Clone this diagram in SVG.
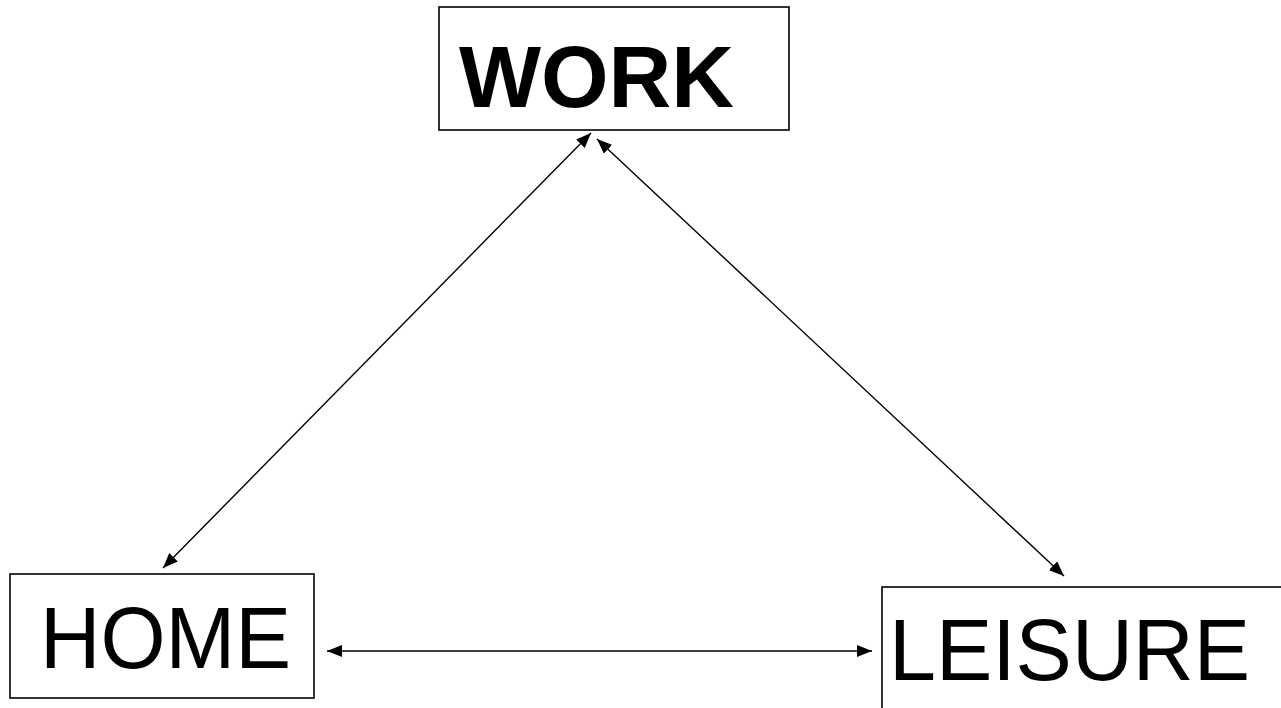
<svg xmlns="http://www.w3.org/2000/svg" width="1281" height="708" viewBox="0 0 1281 708">
  <style>
    .box { fill: #fff; stroke: #000; stroke-width: 1.6; }
    .lbl { font-family: "Liberation Sans", Arial, sans-serif; font-size: 88px; fill: #000; }
    .bold { font-weight: bold; }
    .link { stroke: #000; stroke-width: 1.4; fill: none; marker-start: url(#head); marker-end: url(#head); }
  </style>
  <defs>
    <!-- filled triangular head, used on both ends of every link -->
    <marker id="head" viewBox="0 0 15 12" refX="15" refY="6" markerWidth="15" markerHeight="12" markerUnits="userSpaceOnUse" orient="auto-start-reverse">
      <path d="M0,0 L15,6 L0,12 Z" fill="#000"/>
    </marker>
  </defs>
  <rect width="1281" height="708" fill="#fff"/>
  <g id="work">
    <rect class="box" x="439" y="7" width="350" height="123"/>
    <text class="lbl bold" x="459" y="107" textLength="275" lengthAdjust="spacingAndGlyphs">WORK</text>
  </g>
  <g id="home">
    <rect class="box" x="10" y="574" width="304" height="124"/>
    <text class="lbl" x="40" y="668" textLength="251" lengthAdjust="spacingAndGlyphs">HOME</text>
  </g>
  <g id="leisure">
    <rect class="box" x="882" y="587" width="410" height="140"/>
    <text class="lbl" x="889" y="680" textLength="361" lengthAdjust="spacingAndGlyphs">LEISURE</text>
  </g>
  <g id="connectors">
    <line class="link" x1="591" y1="133" x2="163" y2="568"/>
    <line class="link" x1="597" y1="139" x2="1064" y2="576"/>
    <line class="link" x1="327" y1="651" x2="872" y2="651"/>
  </g>
</svg>
